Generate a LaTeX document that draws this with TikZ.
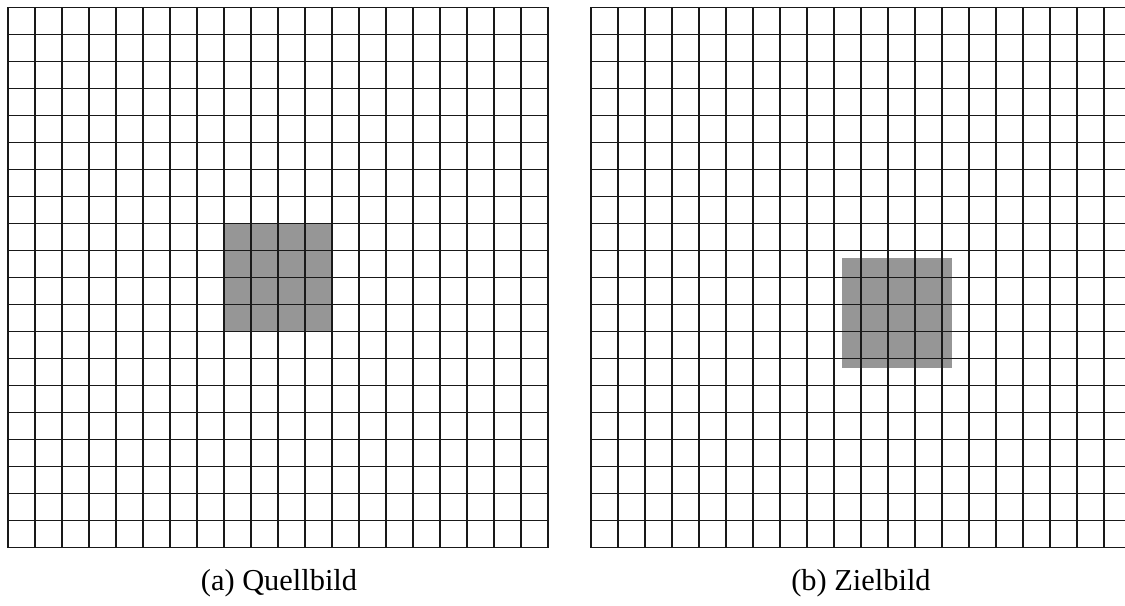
\documentclass[tikz,border=0pt]{standalone}
\usepackage{fontspec}
\setmainfont{Liberation Serif}
\definecolor{cellgray}{RGB}{150,150,150}
\tikzset{
  gridline/.style={line width=1.9bp, black!90, line cap=rect},
  patch/.style={fill=cellgray, draw=none},
  caption/.style={font=\fontsize{30.4bp}{36bp}\selectfont, anchor=base, inner sep=0pt}
}
\begin{document}
\begin{tikzpicture}[x=1bp,y=-1bp]
  \useasboundingbox (0,0) rectangle (1125,606);
  \clip (0,0) rectangle (1125,606);
  % left: source image
  \fill[patch] (224,223.5) rectangle (332,331.5);
  \foreach \k in {0,...,20}{
    \draw[gridline] ({8+27*\k},7.5) -- ({8+27*\k},547.5);
    \draw[gridline] (8,{7.5+27*\k}) -- (548,{7.5+27*\k});
  }
  % right: target image
  \fill[patch] (842,258) rectangle (952,368);
  \foreach \k in {0,...,20}{
    \draw[gridline] ({591+27*\k},7.5) -- ({591+27*\k},547.5);
    \draw[gridline] (591,{7.5+27*\k}) -- (1131,{7.5+27*\k});
  }
  % captions
  \node[caption] (capa) at (279,590) {(a) Quellbild};
  \node[caption] (capb) at (861,590) {(b) Zielbild};
\end{tikzpicture}
\end{document}
